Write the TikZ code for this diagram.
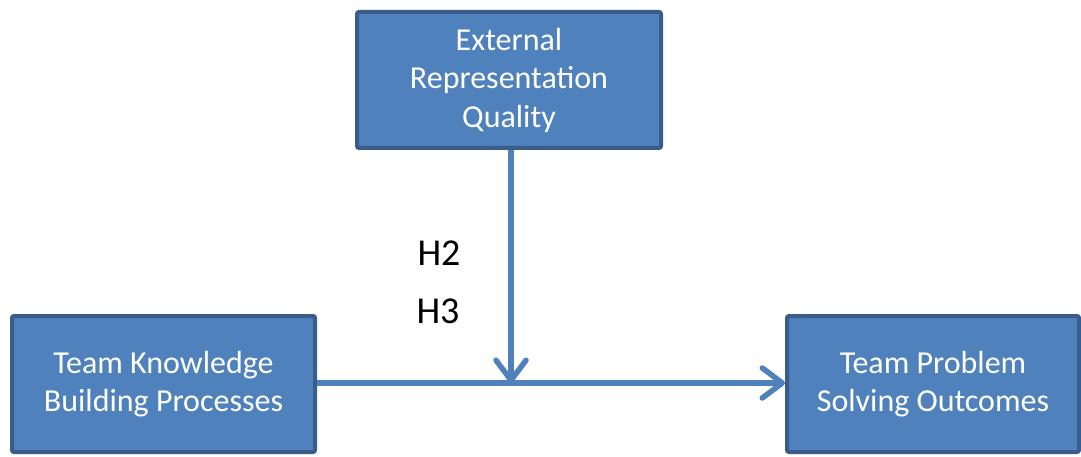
\documentclass[tikz,border=0pt]{standalone}
\usepackage{fontspec}
\setmainfont{Carlito}
\usetikzlibrary{arrows.meta}
\definecolor{boxfill}{HTML}{4F81BD}
\definecolor{boxline}{HTML}{385D8A}
\begin{document}
\begin{tikzpicture}[x=1pt,y=-1pt,
  block/.style={draw=boxline, fill=boxfill, line width=4pt, rounded corners=2pt,
    text=white, align=center, inner sep=0pt,
    font=\fontsize{32}{38.5}\selectfont},
  conn/.style={draw=boxfill, line width=5.5pt,
    -{Straight Barb[round, length=20pt, width=30pt]}},
  hyp/.style={font=\fontsize{38}{44}\selectfont, text=black}]
  \useasboundingbox (0,0) rectangle (1081,457);
  % the three constructs
  \node[block, minimum width=304pt, minimum height=136pt] (erq) at (509,80)
    {External\\Representation\\Quality};
  \node[block, minimum width=303pt, minimum height=136pt] (tkb) at (163.5,384)
    {Team Knowledge\\Building Processes};
  \node[block, minimum width=292pt, minimum height=136pt] (tps) at (933,384)
    {Team Problem\\Solving Outcomes};
  % meeting point of the moderating path
  \coordinate (mid) at (511,383);
  % paths
  \draw[conn] (tkb.east |- mid) -- (tps.west |- mid);
  \draw[conn] (erq.south -| mid) -- (mid);
  % hypothesis labels
  \node[hyp] (h2) at (439,253) {H2};
  \node[hyp] (h3) at (438,311) {H3};
\end{tikzpicture}
\end{document}
